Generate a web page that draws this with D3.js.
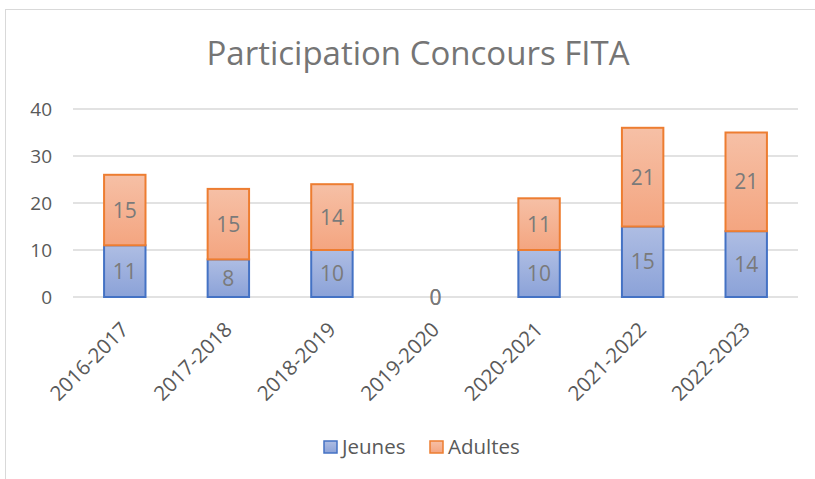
<!DOCTYPE html>
<html>
<head>
<meta charset="utf-8">
<script src="https://cdn.jsdelivr.net/npm/d3@7"></script>
<style>
  body { margin: 0; background: #fff; }
  text { font-family: "Open Sans", "Noto Sans", sans-serif; }
</style>
</head>
<body>
<div id="chart"></div>
<script>
const seasons = ['2016-2017', '2017-2018', '2018-2019', '2019-2020', '2020-2021', '2021-2022', '2022-2023'];
const jeunes = [11, 8, 10, 0, 10, 15, 14];
const adultes = [15, 15, 14, 0, 11, 21, 21];
const yTicks = [0, 10, 20, 30, 40];

const width = 815, height = 479;
const margin = { top: 109, right: 17, bottom: 182, left: 73 };
const font = '"Open Sans", "Noto Sans", sans-serif';

const svg = d3.select('#chart').append('svg')
  .attr('width', width)
  .attr('height', height);

// chart frame (cut at right and bottom)
svg.append('rect')
  .attr('x', 5.5).attr('y', 9.5)
  .attr('width', 830).attr('height', 500)
  .attr('fill', '#fff')
  .attr('stroke', '#d9d9d9')
  .attr('stroke-width', 1);

const defs = svg.append('defs');
const gradBlue = defs.append('linearGradient').attr('id', 'gBlue').attr('x1', 0).attr('y1', 0).attr('x2', 0).attr('y2', 1);
gradBlue.append('stop').attr('offset', '0%').attr('stop-color', '#aebde3');
gradBlue.append('stop').attr('offset', '100%').attr('stop-color', '#8ba2d8');
const gradOrange = defs.append('linearGradient').attr('id', 'gOrange').attr('x1', 0).attr('y1', 0).attr('x2', 0).attr('y2', 1);
gradOrange.append('stop').attr('offset', '0%').attr('stop-color', '#f6c0a6');
gradOrange.append('stop').attr('offset', '100%').attr('stop-color', '#f4a580');

const x = d3.scaleBand()
  .domain(seasons)
  .range([margin.left, width - margin.right])
  .paddingInner(0.6)
  .paddingOuter(0.3);

const y = d3.scaleLinear()
  .domain([0, 40])
  .range([height - margin.bottom, margin.top]);

// title
svg.append('text')
  .attr('x', 418).attr('y', 65)
  .attr('text-anchor', 'middle')
  .attr('fill', '#757575')
  .attr('font-size', 33)
  .text('Participation Concours FITA');

// gridlines
svg.append('g')
  .selectAll('line')
  .data(yTicks)
  .join('line')
  .attr('x1', margin.left).attr('x2', width - margin.right)
  .attr('y1', d => y(d)).attr('y2', d => y(d))
  .attr('stroke', '#d9d9d9')
  .attr('stroke-width', 1.5);

// y axis labels
const yAxis = d3.axisLeft(y).tickValues(yTicks).tickSize(0).tickPadding(0);
svg.append('g')
  .attr('transform', `translate(${margin.left - 21},0)`)
  .call(yAxis)
  .call(g => g.select('.domain').remove())
  .call(g => g.selectAll('text')
    .attr('fill', '#595959')
    .attr('font-size', 19)
    .style('font-family', font));

const stacked = seasons.map((s, i) => ({ s, j: jeunes[i], a: adultes[i] }));

const bars = svg.append('g');
// Jeunes
bars.selectAll('.jeunes')
  .data(stacked.filter(d => d.j > 0))
  .join('rect')
  .attr('class', 'jeunes')
  .attr('x', d => x(d.s))
  .attr('width', x.bandwidth())
  .attr('y', d => y(d.j))
  .attr('height', d => y(0) - y(d.j))
  .attr('fill', 'url(#gBlue)')
  .attr('stroke', '#4472c4')
  .attr('stroke-width', 2);
// Adultes
bars.selectAll('.adultes')
  .data(stacked.filter(d => d.a > 0))
  .join('rect')
  .attr('class', 'adultes')
  .attr('x', d => x(d.s))
  .attr('width', x.bandwidth())
  .attr('y', d => y(d.j + d.a))
  .attr('height', d => y(d.j) - y(d.j + d.a))
  .attr('fill', 'url(#gOrange)')
  .attr('stroke', '#ed7d31')
  .attr('stroke-width', 2);

// data labels
const labels = svg.append('g')
  .attr('fill', '#7a7a7a')
  .attr('font-size', 21)
  .attr('text-anchor', 'middle');
labels.selectAll('.lj')
  .data(stacked)
  .join('text')
  .attr('x', d => x(d.s) + x.bandwidth() / 2)
  .attr('y', d => (y(0) + y(d.j)) / 2 + 7.5)
  .text(d => d.j);
labels.selectAll('.la')
  .data(stacked)
  .join('text')
  .attr('x', d => x(d.s) + x.bandwidth() / 2)
  .attr('y', d => (y(d.j) + y(d.j + d.a)) / 2 + 7.5)
  .text(d => d.a);

// x axis labels
const xAxis = d3.axisBottom(x).tickSize(0).tickPadding(0);
svg.append('g')
  .attr('transform', `translate(0,${y(0)})`)
  .call(xAxis)
  .call(g => g.select('.domain').remove())
  .call(g => g.selectAll('text')
    .attr('fill', '#595959')
    .attr('font-size', 20.5)
    .style('font-family', font)
    .attr('text-anchor', 'end')
    .attr('dy', 0)
    .attr('transform', 'translate(5,34) rotate(-45)'));

// legend
const legendItems = [
  { name: 'Jeunes', fill: 'url(#gBlue)', stroke: '#4472c4', x: 324 },
  { name: 'Adultes', fill: 'url(#gOrange)', stroke: '#ed7d31', x: 430 }
];
const legend = svg.append('g');
const li = legend.selectAll('g')
  .data(legendItems)
  .join('g')
  .attr('transform', d => `translate(${d.x},441)`);
li.append('rect')
  .attr('width', 13).attr('height', 12)
  .attr('fill', d => d.fill)
  .attr('stroke', d => d.stroke)
  .attr('stroke-width', 1.5);
li.append('text')
  .attr('x', 18).attr('y', 13)
  .attr('fill', '#595959')
  .attr('font-size', 20.5)
  .text(d => d.name);
</script>
</body>
</html>
